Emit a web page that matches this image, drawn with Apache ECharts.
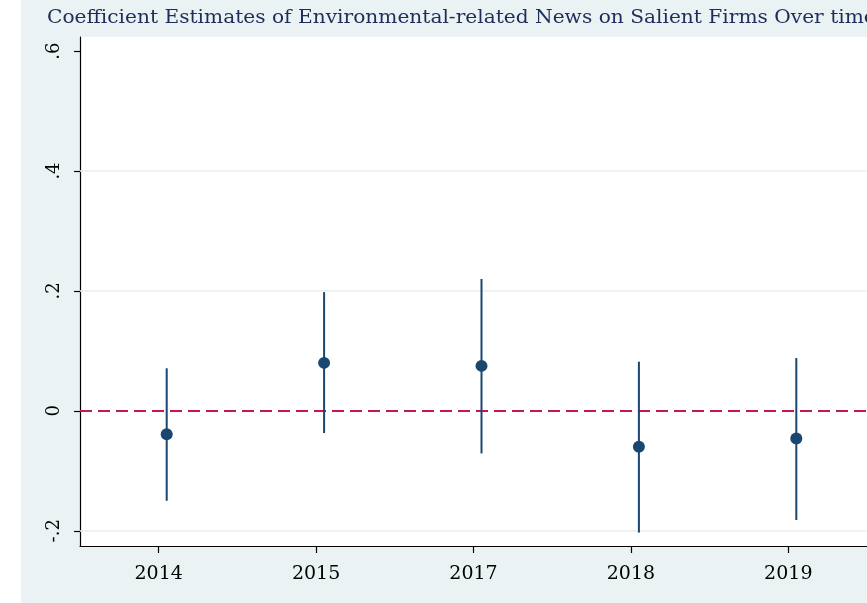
<!DOCTYPE html>
<html>
<head>
<meta charset="utf-8">
<script src="https://cdn.jsdelivr.net/npm/echarts@6/dist/echarts.min.js"></script>
<style>
  html, body { margin: 0; padding: 0; background: #ffffff; overflow: hidden; }
  #chart { width: 867px; height: 603px; }
</style>
</head>
<body>
<div id="chart"></div>
<script>
// Yearly coefficient estimates with their confidence bounds
const categories = ['2014', '2015', '2017', '2018', '2019'];
const estimates = [-0.039, 0.080, 0.075, -0.060, -0.046];
const ciLower = [-0.150, -0.037, -0.071, -0.203, -0.182];
const ciUpper = [0.071, 0.198, 0.220, 0.082, 0.088];

// Vertical axis ticks and their labels
const yTickValues = [-0.2, 0, 0.2, 0.4, 0.6];
const yTickLabels = ['-.2', '0', '.2', '.4', '.6'];
const gridValues = [-0.2, 0.2, 0.4];
const referenceValue = 0;

const titleText = 'Coefficient Estimates of Environmental-related News on Salient Firms Over time';

const NAVY = '#1a476f';
const BG = '#eaf2f3';
const SERIF = 'DejaVu Serif, Liberation Serif, serif';
const MARK_SHIFT = 8; // markers sit slightly right of each category tick

const chart = echarts.init(document.getElementById('chart'), null, { renderer: 'canvas' });

chart.setOption({
  backgroundColor: '#ffffff',
  animation: false,
  graphic: [
    {
      type: 'rect',
      left: 21, top: 0,
      shape: { width: 846, height: 603 },
      style: { fill: BG },
      z: -100,
      silent: true
    },
    {
      // wide serif title, stretched horizontally
      type: 'text',
      x: 47, y: 9,
      scaleX: 1.12,
      style: {
        text: titleText,
        fontFamily: SERIF,
        fontSize: 18,
        fill: '#1e2d5a',
        textVerticalAlign: 'top'
      },
      z: 10,
      silent: true
    }
  ],
  grid: {
    left: 80, right: 0, top: 37, bottom: 57,
    show: true, backgroundColor: '#ffffff', borderWidth: 0
  },
  xAxis: {
    type: 'category',
    data: categories,
    boundaryGap: true,
    axisLine: { show: true, onZero: false, lineStyle: { color: '#000', width: 1.2 } },
    axisTick: { show: true, alignWithLabel: true, length: 7, lineStyle: { color: '#000', width: 1.2 } },
    axisLabel: { fontFamily: SERIF, fontSize: 19, color: '#000', margin: 19 },
    splitLine: { show: false }
  },
  yAxis: {
    type: 'value',
    min: -0.2254,
    max: 0.6235,
    axisLine: { show: true, onZero: false, lineStyle: { color: '#000', width: 1.2 } },
    axisTick: { show: true, length: 6, customValues: yTickValues, lineStyle: { color: '#000', width: 1.2 } },
    axisLabel: {
      customValues: yTickValues,
      rotate: 90,
      margin: 17,
      fontFamily: SERIF,
      fontSize: 18,
      color: '#000',
      formatter: function (v) {
        const i = yTickValues.findIndex(t => Math.abs(t - v) < 1e-9);
        return i >= 0 ? yTickLabels[i] : '';
      }
    },
    splitLine: { show: false }
  },
  series: [
    {
      // horizontal grid lines and the zero reference line
      type: 'line',
      data: [],
      z: 1,
      silent: true,
      markLine: {
        z: 1,
        silent: true,
        symbol: ['none', 'none'],
        label: { show: false },
        data: gridValues.map(v => ({ yAxis: v, lineStyle: { color: '#e6eff1', width: 1.5, type: 'solid' } }))
          .concat([{ yAxis: referenceValue, lineStyle: { color: '#c8174a', width: 2, type: [12, 6] } }])
      }
    },
    {
      // confidence interval bars
      type: 'custom',
      z: 3,
      data: categories.map((c, i) => [i, ciLower[i], ciUpper[i]]),
      encode: { x: 0, y: [1, 2] },
      renderItem: function (params, api) {
        const x = api.value(0);
        const lo = api.coord([x, api.value(1)]);
        const hi = api.coord([x, api.value(2)]);
        return {
          type: 'line',
          shape: { x1: lo[0] + MARK_SHIFT, y1: lo[1], x2: hi[0] + MARK_SHIFT, y2: hi[1] },
          style: { stroke: NAVY, lineWidth: 2 }
        };
      }
    },
    {
      // point estimates
      type: 'scatter',
      z: 4,
      data: categories.map((c, i) => [c, estimates[i]]),
      symbol: 'circle',
      symbolSize: 12,
      symbolOffset: [MARK_SHIFT, 0],
      itemStyle: { color: NAVY, opacity: 1 }
    }
  ]
});
</script>
</body>
</html>
